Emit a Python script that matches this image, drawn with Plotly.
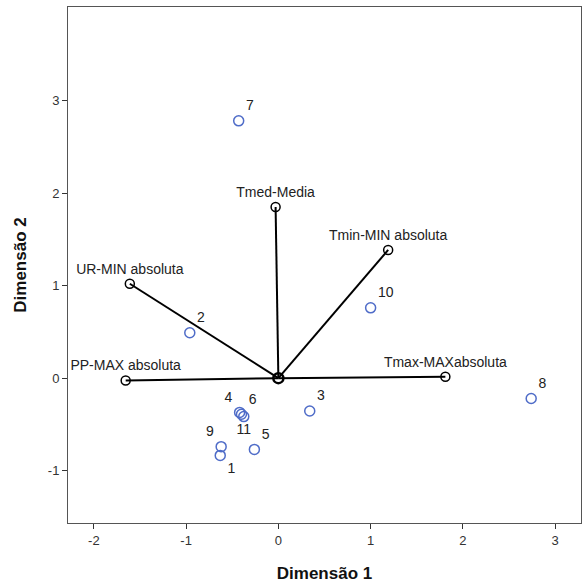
import plotly.graph_objects as go

# Object scores (cases)
case_labels = ["1", "2", "3", "4", "5", "6", "7", "8", "9", "10", "11"]
case_dim1 = [-0.63, -0.96, 0.34, -0.42, -0.26, -0.40, -0.43, 2.74, -0.62, 1.00, -0.375]
case_dim2 = [-0.835, 0.49, -0.355, -0.37, -0.77, -0.39, 2.78, -0.22, -0.74, 0.76, -0.415]
case_textpos = ["bottom right", "top right", "top right", "top left", "top right", "top right",
                "top right", "top right", "top left", "top right", "bottom center"]

# Variable loadings (vectors)
var_labels = ["Tmed-Media", "Tmin-MIN absoluta", "UR-MIN absoluta", "PP-MAX absoluta", "Tmax-MAXabsoluta"]
var_dim1 = [-0.03, 1.19, -1.61, -1.655, 1.81]
var_dim2 = [1.85, 1.385, 1.02, -0.025, 0.015]

x_ticks = [-2, -1, 0, 1, 2, 3]
y_ticks = [-1, 0, 1, 2, 3]
x_range = [-2.28, 3.28]
y_range = [-1.565, 4.01]

FONT = "Liberation Sans, Arial, sans-serif"

fig = go.Figure()

# vectors from origin
for vx, vy in zip(var_dim1, var_dim2):
    fig.add_trace(go.Scatter(x=[0, vx], y=[0, vy], mode="lines",
                             line=dict(color="black", width=2), showlegend=False, hoverinfo="skip"))

# origin marker
fig.add_trace(go.Scatter(x=[0], y=[0], mode="markers",
                         marker=dict(symbol="circle-open", size=10, color="black", line=dict(width=2.5)),
                         showlegend=False))

# variable endpoints
fig.add_trace(go.Scatter(x=var_dim1, y=var_dim2, mode="markers+text", text=var_labels,
                         textposition="top center",
                         textfont=dict(family=FONT, size=14, color="#222"),
                         marker=dict(symbol="circle-open", size=9, color="black", line=dict(width=1.5)),
                         showlegend=False))

# cases
fig.add_trace(go.Scatter(x=case_dim1, y=case_dim2, mode="markers+text", text=case_labels,
                         textposition=case_textpos,
                         textfont=dict(family=FONT, size=14, color="#222"),
                         marker=dict(symbol="circle-open", size=10, color="#4f6cc8", line=dict(width=1.5)),
                         showlegend=False))

axis_common = dict(showgrid=False, zeroline=False, showline=True, mirror=True, automargin=False,
                   linecolor="#555", linewidth=1, ticks="outside", ticklen=5,
                   tickcolor="#333", tickfont=dict(family=FONT, size=13, color="#333"))

fig.update_xaxes(range=x_range, tickvals=x_ticks, ticktext=[str(v) for v in x_ticks],
                 title=dict(text="<b>Dimensão 1</b>", font=dict(family=FONT, size=17, color="#111"), standoff=20),
                 **axis_common)
fig.update_yaxes(range=y_range, tickvals=y_ticks, ticktext=[str(v) for v in y_ticks],
                 title=dict(text="<b>Dimensão 2</b>", font=dict(family=FONT, size=17, color="#111"), standoff=16),
                 **axis_common)

fig.update_layout(width=583, height=585, margin=dict(l=68, r=2, t=7, b=62),
                  plot_bgcolor="white", paper_bgcolor="white", showlegend=False)

fig.write_html("out.html", config={"displayModeBar": False},
               post_script="document.body.style.margin='0';")
